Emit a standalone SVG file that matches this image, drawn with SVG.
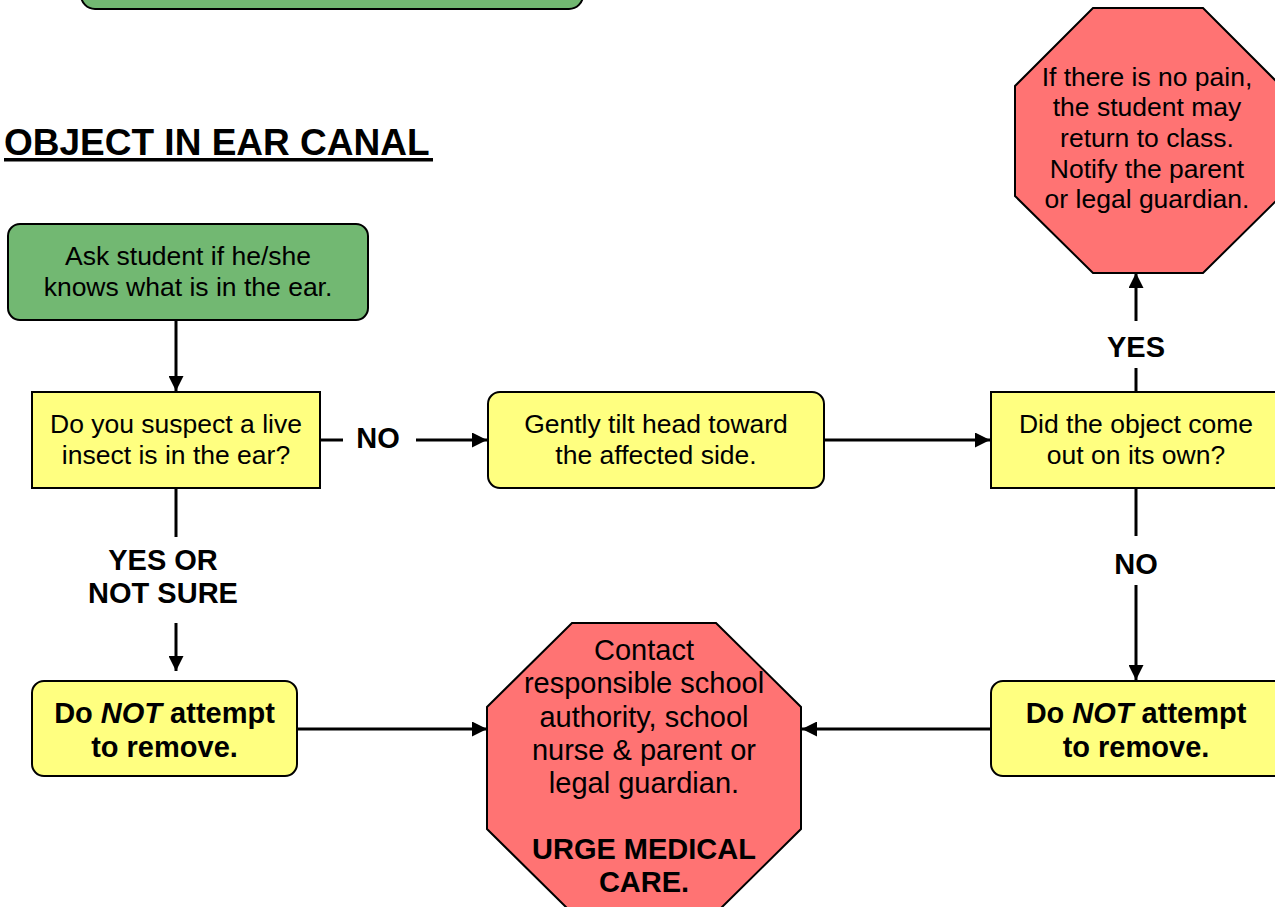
<svg xmlns="http://www.w3.org/2000/svg" width="1275" height="907" viewBox="0 0 1275 907">
<defs>
<marker id="ah" viewBox="0 0 10 10" refX="10" refY="5" markerWidth="5" markerHeight="5" orient="auto" markerUnits="strokeWidth">
<path d="M0,0 L10,5 L0,10 z" fill="#000"/>
</marker>
<style>
.t{font-family:"Liberation Sans",Arial,sans-serif;font-size:26.5px;fill:#000;text-anchor:middle}
.b{font-family:"Liberation Sans",Arial,sans-serif;font-weight:bold;fill:#000;text-anchor:middle}
.green{fill:#72B872;stroke:#000;stroke-width:2}
.yellow{fill:#FFFF80;stroke:#000;stroke-width:2}
.red{fill:#FF7373;stroke:#000;stroke-width:2}
.c{stroke:#000;stroke-width:3;fill:none}
</style>
</defs>
<rect width="1275" height="907" fill="#fff"/>

<g id="top-box">
<rect class="green" x="81" y="-40" width="502" height="49" rx="14"/>
</g>

<g id="title">
<text x="4" y="155" style="font-family:'Liberation Sans',Arial,sans-serif;font-weight:bold;font-size:37px">OBJECT IN EAR CANAL</text>
<rect x="4" y="158" width="429" height="3.5" fill="#000"/>
</g>

<g id="connectors">
<line class="c" x1="176" y1="321" x2="176" y2="391" marker-end="url(#ah)"/>
<line class="c" x1="321" y1="440" x2="343" y2="440"/>
<line class="c" x1="416" y1="440" x2="487" y2="440" marker-end="url(#ah)"/>
<line class="c" x1="825" y1="440" x2="990" y2="440" marker-end="url(#ah)"/>
<line class="c" x1="176" y1="489" x2="176" y2="537"/>
<line class="c" x1="176" y1="623" x2="176" y2="671" marker-end="url(#ah)"/>
<line class="c" x1="1136" y1="391" x2="1136" y2="368"/>
<line class="c" x1="1136" y1="321" x2="1136" y2="273" marker-end="url(#ah)"/>
<line class="c" x1="1136" y1="489" x2="1136" y2="536"/>
<line class="c" x1="1136" y1="585" x2="1136" y2="680" marker-end="url(#ah)"/>
<line class="c" x1="298" y1="729" x2="487" y2="729" marker-end="url(#ah)"/>
<line class="c" x1="990" y1="729" x2="802" y2="729" marker-end="url(#ah)"/>
<text class="b" x="378" y="448" font-size="29">NO</text>
<text class="b" x="163" y="570" font-size="29">YES OR</text>
<text class="b" x="163" y="603" font-size="29">NOT SURE</text>
<text class="b" x="1136" y="357" font-size="29">YES</text>
<text class="b" x="1136" y="574" font-size="29">NO</text>
</g>

<g id="ask">
<rect class="green" x="8" y="224" width="360" height="96" rx="12"/>
<text class="t" x="188" y="265">Ask student if he/she</text>
<text class="t" x="188" y="296">knows what is in the ear.</text>
</g>

<g id="suspect">
<rect class="yellow" x="32" y="392" width="288" height="96"/>
<text class="t" x="176" y="433">Do you suspect a live</text>
<text class="t" x="176" y="464">insect is in the ear?</text>
</g>

<g id="tilt">
<rect class="yellow" x="488" y="392" width="336" height="96" rx="12"/>
<text class="t" x="656" y="433">Gently tilt head toward</text>
<text class="t" x="656" y="464">the affected side.</text>
</g>

<g id="came-out">
<rect class="yellow" x="991" y="392" width="300" height="96"/>
<text class="t" x="1136" y="433">Did the object come</text>
<text class="t" x="1136" y="464">out on its own?</text>
</g>

<g id="no-pain">
<polygon class="red" points="1093,8 1203,8 1281,86 1281,196 1203,273 1093,273 1015,196 1015,86"/>
<text class="t" x="1147" y="86">If there is no pain,</text>
<text class="t" x="1147" y="116">the student may</text>
<text class="t" x="1147" y="147">return to class.</text>
<text class="t" x="1147" y="178">Notify the parent</text>
<text class="t" x="1147" y="208">or legal guardian.</text>
</g>

<g id="not-remove-left">
<rect class="yellow" x="32" y="681" width="265" height="95" rx="12"/>
<text class="b" x="164.5" y="723" font-size="29">Do <tspan font-style="italic">NOT</tspan> attempt</text>
<text class="b" x="164.5" y="757" font-size="29">to remove.</text>
</g>

<g id="not-remove-right">
<rect class="yellow" x="991" y="681" width="300" height="95" rx="12"/>
<text class="b" x="1136" y="723" font-size="29">Do <tspan font-style="italic">NOT</tspan> attempt</text>
<text class="b" x="1136" y="757" font-size="29">to remove.</text>
</g>

<g id="contact">
<polygon class="red" points="572,623 716,623 801,707 801,829 716,913 572,913 487,829 487,707"/>
<text class="t" x="644" y="660" style="font-size:29px">Contact</text>
<text class="t" x="644" y="693" style="font-size:29px">responsible school</text>
<text class="t" x="644" y="727" style="font-size:29px">authority, school</text>
<text class="t" x="644" y="760" style="font-size:29px">nurse &amp; parent or</text>
<text class="t" x="644" y="793" style="font-size:29px">legal guardian.</text>
<text class="b" x="644" y="859" font-size="29">URGE MEDICAL</text>
<text class="b" x="644" y="892" font-size="29">CARE.</text>
</g>
</svg>
